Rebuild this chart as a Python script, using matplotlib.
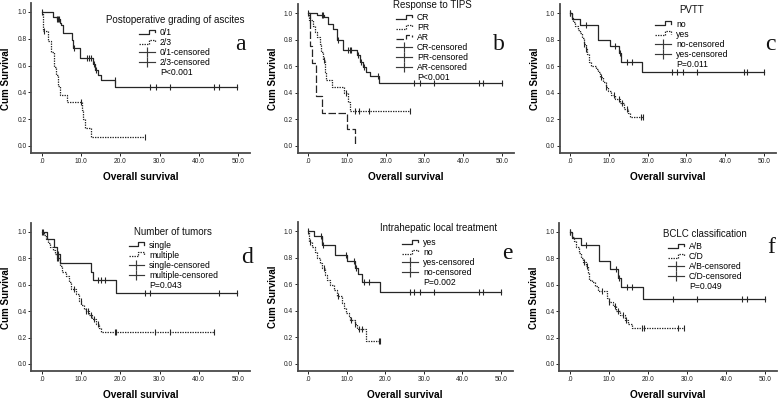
import numpy as np
import matplotlib
matplotlib.use('Agg')
import matplotlib.pyplot as plt
from matplotlib.lines import Line2D
from matplotlib.legend_handler import HandlerBase

plt.rcParams['font.family'] = ['Liberation Sans', 'DejaVu Sans']

# ---- a: postoperative grading of ascites
a1_t = [2.9, 3.7, 4.5, 4.9, 5.3, 7.6, 8.0, 9.7, 12.9, 13.5, 14.3, 15.0, 18.7]
a1_s = [0.965, 0.945, 0.92, 0.90, 0.84, 0.79, 0.73, 0.655, 0.61, 0.567, 0.53, 0.49, 0.44]
a1_c = [0.1, 3.9, 4.1, 4.3, 8.2, 11.6, 12.0, 12.4, 13.2, 13.8, 18.5, 27.5, 29.0, 32.7, 44.0, 45.2, 49.7]
a2_t = [0.3, 1.5, 2.2, 3.0, 3.6, 4.2, 4.6, 6.5, 10.2, 10.5, 11.0, 12.4]
a2_s = [0.86, 0.78, 0.70, 0.59, 0.53, 0.45, 0.38, 0.33, 0.27, 0.20, 0.135, 0.067]
a2_c = [0.6, 10.0, 26.4]

# ---- b: response to TIPS
b1_t = [2.2, 4.2, 5.2, 6.5, 7.5, 9.1, 12.6, 13.3, 14.3, 15.0, 16.0, 18.3]
b1_s = [0.985, 0.97, 0.92, 0.88, 0.80, 0.725, 0.685, 0.635, 0.595, 0.56, 0.525, 0.47]
b1_c = [0.1, 3.5, 3.8, 7.8, 10.4, 10.8, 11.2, 12.8, 13.6, 14.5, 18.1, 27.3, 28.8, 32.4, 44.2, 45.1, 50.0]
b2_t = [0.3, 1.2, 1.8, 2.3, 3.0, 3.4, 3.8, 4.3, 4.6, 6.2, 9.2, 10.2, 10.8]
b2_s = [0.95, 0.90, 0.86, 0.82, 0.77, 0.71, 0.645, 0.56, 0.50, 0.445, 0.40, 0.33, 0.265]
b2_c = [0.45, 4.0, 9.7, 12.2, 13.1, 15.8, 26.2]
b3_t = [0.4, 0.6, 1.0, 2.0, 3.6, 10.1, 12.1]
b3_s = [0.875, 0.75, 0.625, 0.375, 0.25, 0.125, 0.0]
b3_c = []

# ---- c: PVTT
c1_t = [0.4, 2.6, 7.3, 10.3, 12.5, 13.1, 18.6]
c1_s = [0.955, 0.91, 0.80, 0.755, 0.70, 0.63, 0.555]
c1_c = [0.0, 4.0, 11.6, 12.8, 14.7, 16.1, 26.4, 27.7, 29.0, 32.8, 44.8, 45.6, 50.0]
c2_t = [0.4, 0.9, 1.4, 2.0, 2.5, 3.0, 3.5, 4.0, 4.4, 4.9, 5.5, 6.6, 7.3, 7.8, 8.5,
        9.2, 9.8, 10.6, 11.7, 12.8, 13.8, 14.9, 15.5]
c2_s = [0.96, 0.93, 0.90, 0.87, 0.85, 0.81, 0.77, 0.73, 0.69, 0.63, 0.60, 0.58, 0.56, 0.52, 0.48,
        0.44, 0.41, 0.38, 0.35, 0.32, 0.28, 0.25, 0.22]
c2_c = [0.0, 3.7, 4.1, 8.0, 9.4, 11.4, 12.6, 13.5, 14.6, 18.2, 18.7]

# ---- d: number of tumors
d1_t = [1.3, 3.0, 3.8, 4.7, 12.5, 13.0, 18.8]
d1_s = [0.945, 0.89, 0.835, 0.765, 0.70, 0.64, 0.535]
d1_c = [0.1, 4.1, 14.3, 15.0, 16.0, 26.4, 27.6, 45.2, 49.7]
d2_t = [0.4, 0.9, 1.5, 2.1, 2.7, 3.3, 3.9, 4.5, 5.2, 6.0, 6.8, 7.4, 8.8, 9.4, 10.0,
        10.6, 11.1, 12.1, 12.8, 13.7, 14.5, 15.1]
d2_s = [0.975, 0.95, 0.92, 0.89, 0.86, 0.83, 0.80, 0.74, 0.70, 0.67, 0.62, 0.565, 0.53, 0.48, 0.45,
        0.42, 0.40, 0.37, 0.34, 0.30, 0.27, 0.245]
d2_c = [0.2, 3.9, 4.2, 8.1, 9.9, 11.3, 11.7, 12.5, 13.3, 14.2, 18.5, 19.0, 28.9, 32.7, 44.0]

# ---- e: intrahepatic local treatment
e1_t = [1.5, 3.5, 3.75, 7.1, 10.2, 12.3, 13.0, 14.0, 18.7]
e1_s = [0.965, 0.93, 0.895, 0.82, 0.775, 0.725, 0.675, 0.62, 0.545]
e1_c = [0.0, 3.4, 3.6, 3.9, 9.8, 11.8, 12.5, 14.4, 15.7, 26.3, 27.5, 28.9, 32.6, 44.4, 45.3, 50.0]
e2_t = [0.3, 1.0, 1.7, 2.4, 3.0, 3.6, 4.4, 4.9, 5.7, 6.8, 7.5, 8.8, 9.4, 9.9, 10.5,
        11.0, 12.2, 12.7, 15.1]
e2_s = [0.92, 0.88, 0.84, 0.80, 0.76, 0.72, 0.67, 0.63, 0.595, 0.56, 0.51, 0.46, 0.42, 0.38, 0.36,
        0.33, 0.30, 0.26, 0.17]
e2_c = [0.4, 4.1, 7.7, 11.2, 12.3, 13.1, 14.0, 18.3, 18.7]

# ---- f: BCLC classification
f1_t = [0.4, 2.7, 7.4, 10.3, 12.4, 13.0, 18.6]
f1_s = [0.955, 0.905, 0.78, 0.72, 0.655, 0.585, 0.49]
f1_c = [0.0, 4.0, 11.8, 12.6, 14.5, 16.0, 26.3, 32.6, 44.2, 45.3, 50.0]
f2_t = [0.4, 0.9, 1.5, 2.2, 2.8, 3.4, 4.0, 4.5, 4.9, 5.6, 6.4, 7.2, 9.4, 9.9, 10.9,
        11.9, 12.9, 14.1, 14.9, 15.9]
f2_s = [0.96, 0.93, 0.89, 0.84, 0.80, 0.77, 0.74, 0.69, 0.64, 0.62, 0.59, 0.55, 0.50, 0.47, 0.44,
        0.40, 0.375, 0.33, 0.30, 0.27]
f2_c = [0.0, 3.7, 4.3, 8.1, 10.0, 11.5, 12.4, 13.7, 14.3, 18.5, 19.0, 27.8, 29.2]

panels = [
    ('a', 'Postoperative grading of ascites', ['0/1', '2/3'],
     [(a1_t, a1_s, a1_c), (a2_t, a2_s, a2_c)], 'P<0.001'),
    ('b', 'Response to TIPS', ['CR', 'PR', 'AR'],
     [(b1_t, b1_s, b1_c), (b2_t, b2_s, b2_c), (b3_t, b3_s, b3_c)], 'P<0.001'),
    ('c', 'PVTT', ['no', 'yes'], [(c1_t, c1_s, c1_c), (c2_t, c2_s, c2_c)], 'P=0.011'),
    ('d', 'Number of tumors', ['single', 'multiple'],
     [(d1_t, d1_s, d1_c), (d2_t, d2_s, d2_c)], 'P=0.043'),
    ('e', 'Intrahepatic local treatment', ['yes', 'no'],
     [(e1_t, e1_s, e1_c), (e2_t, e2_s, e2_c)], 'P=0.002'),
    ('f', 'BCLC classification', ['A/B', 'C/D'],
     [(f1_t, f1_s, f1_c), (f2_t, f2_s, f2_c)], 'P=0.049'),
]

# pixel positions of x=0, x=50, y=1, y=0 in each panel
geom = {'a': (42, 238, 12, 146), 'b': (308, 502, 13, 146), 'c': (570, 764, 13, 146),
        'd': (42, 238, 232, 364), 'e': (308, 501, 231, 364), 'f': (570, 765, 232, 364)}
# legend: centre x, title centre y, top of first entry (axes fraction)
leg_pos = {'a': (0.657, 0.889, 0.862), 'b': (0.623, 0.996, 0.970), 'c': (0.613, 0.962, 0.927),
           'd': (0.650, 0.940, 0.913), 'e': (0.657, 0.960, 0.924), 'f': (0.671, 0.928, 0.902)}
let_pos = {'a': (0.982, 0.689), 'b': (0.96, 0.694), 'c': (0.998, 0.694),
           'd': (1.015, 0.73), 'e': (0.998, 0.752), 'f': (0.995, 0.798)}

styles = ['-', (0, (1.1, 0.9)), (0, (6, 2))]
LC = '#262626'
XL = (-2.7, 53)
YL = (-0.055, 1.065)
W, H = 778, 401


class StepHandler(HandlerBase):
    def create_artists(self, legend, orig_handle, xdescent, ydescent, width, height, fontsize, trans):
        x0, y0 = -xdescent, -ydescent
        xs = [x0, x0 + 0.62 * width, x0 + 0.62 * width, x0 + width, x0 + width]
        ys = [y0 + 0.2 * height, y0 + 0.2 * height, y0 + 0.9 * height, y0 + 0.9 * height, y0 + 0.5 * height]
        ln = Line2D(xs, ys)
        ln.update_from(orig_handle)
        ln.set_marker('None')
        ln.set_transform(trans)
        return [ln]


fig = plt.figure(figsize=(W / 100, H / 100), dpi=100)

for key, title, groups, curves, ptext in panels:
    px0, px50, py1, py0 = geom[key]
    k = (px50 - px0) / 50
    m = py0 - py1
    lp, rp = px0 + XL[0] * k, px0 + XL[1] * k
    tp, bp = py0 - YL[1] * m, py0 - YL[0] * m
    ax = fig.add_axes([lp / W, 1 - bp / H, (rp - lp) / W, (bp - tp) / H])

    step_h, cens_h = [], []
    for i, (t, s, c) in enumerate(curves):
        t = np.array(t)
        s = np.array(s)
        c = np.array(c)
        end = max(t.max(), c.max() if len(c) else 0)
        xs = np.r_[0, t, end]
        ys = np.r_[1.0, s, s[-1]]
        h, = ax.step(xs, ys, where='post', color=LC, lw=0.9, linestyle=styles[i])
        step_h.append(h)
        if len(c):
            lev = np.r_[1.0, s][np.searchsorted(t, c, side='right')]
            ax.plot(c, lev, linestyle='none', marker='|', ms=4.8, mew=0.8, color=LC)
        cens_h.append(Line2D([], [], color='#3a3a3a', lw=0.85, marker='|', ms=7.5, mew=0.85))

    handles = step_h + cens_h + [Line2D([], [], linestyle='none')]
    labels = groups + [g + '-censored' for g in groups] + [ptext]
    hm = {h: StepHandler() for h in step_h}
    cx, ty, ly = leg_pos[key]
    ax.text(cx, ty, title, transform=ax.transAxes, ha='center', va='center', fontsize=7, color='#111111')
    ax.legend(handles, labels, loc='upper center', bbox_to_anchor=(cx, ly),
              frameon=False, fontsize=6.2, borderpad=0, labelspacing=0.12,
              handlelength=1.8, handletextpad=0.6, handler_map=hm, numpoints=1)

    ax.text(let_pos[key][0], let_pos[key][1], key, transform=ax.transAxes, ha='right', va='baseline',
            fontsize=17, family='Liberation Serif', color='#111111')

    ax.set_xlim(*XL)
    ax.set_ylim(*YL)
    ax.set_xticks([0, 10, 20, 30, 40, 50])
    ax.set_xticklabels(['.0', '10.0', '20.0', '30.0', '40.0', '50.0'])
    ax.set_yticks([0, 0.2, 0.4, 0.6, 0.8, 1.0])
    ax.set_yticklabels(['0.0', '0.2', '0.4', '0.6', '0.8', '1.0'])
    ax.tick_params(labelsize=4.8, length=2, width=0.7, pad=1.5, colors='#222222')
    for sp in ['top', 'right']:
        ax.spines[sp].set_visible(False)
    for sp in ['left', 'bottom']:
        ax.spines[sp].set_linewidth(1.3)
        ax.spines[sp].set_color('#4a4a4a')
    ax.set_xlabel('Overall survival', fontsize=7.3, fontweight='bold')
    ax.set_ylabel('Cum Survival', fontsize=7.0, fontweight='bold')
    ax.xaxis.set_label_coords(0.5, -18.5 / (bp - tp))
    ax.yaxis.set_label_coords(-20.0 / (rp - lp), 0.5)

fig.savefig('out.png', dpi=100)
